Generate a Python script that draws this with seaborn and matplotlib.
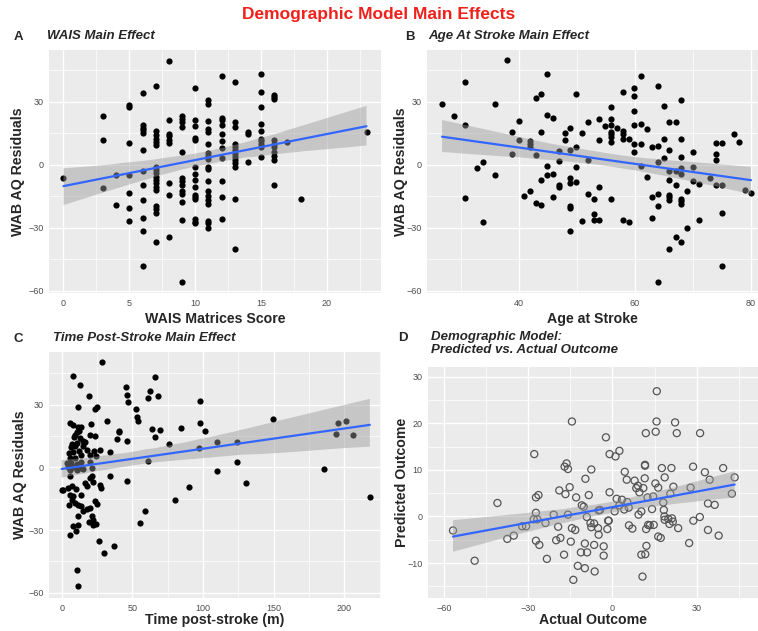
import matplotlib
matplotlib.use("Agg")
import matplotlib.pyplot as plt
import seaborn as sns
from matplotlib.collections import PolyCollection
from matplotlib.ticker import AutoMinorLocator, MultipleLocator

sns.set_theme(style="darkgrid")
plt.rcParams["font.family"] = ["Liberation Sans", "DejaVu Sans"]

# ── data ──────────────────────────────────────────────────────────────────────
wais_score = [0, 3, 3, 3, 4, 4,
              5, 5, 5, 5, 5, 5, 5,
              6, 6, 6, 6, 6, 6, 6, 6, 6, 6, 6, 6,
              7, 7, 7, 7, 7, 7, 7, 7, 7, 7, 7, 7, 7, 7, 7, 7, 7, 7,
              8, 8, 8, 8, 8, 8, 8, 8, 8,
              9, 9, 9, 9, 9, 9, 9, 9, 9, 9, 9, 9, 9,
              10, 10, 10, 10, 10, 10, 10, 10, 10, 10, 10, 10, 10, 10, 10,
              11, 11, 11, 11, 11, 11, 11, 11, 11, 11, 11, 11, 11, 11, 11, 11, 11, 11, 11,
              12, 12, 12, 12, 12, 12, 12, 12, 12, 12, 12,
              13, 13, 13, 13, 13, 13, 13, 13, 13, 13, 13, 13, 13,
              14, 14, 14,
              15, 15, 15, 15, 15, 15, 15, 15, 15, 15,
              16, 16, 16, 16, 16, 16, 16, 16, 16, 16,
              17, 18, 23]
wais_resid = [-6.3, 23.2, 11.6, -11, -4.7, -19,
              28.4, 27.3, 10.5, -4.7, -13.7, -20.4, -26.7,
              34, 18.7, 17.6, 16.3, 15.2, 7, -3.1, -9.6, -16.8, -25.3, -31.6, -48,
              37.5, 16.2, 14, 12.4, 10.8, 9.3, -1.1, -2.7, -4.2, -5.8, -7.4, -8.9, -10.5, -12,
              -19.6, -21.2, -23.1, -36.7,
              49.5, 21.4, 14.8, 13.7, 11.6, 10.5, -8.9, -14.4, -34.2,
              23.1, 21.5, 20.3, 17.9, 6, -6.4, -8, -9.6, -12.7, -13.8, -17.7, -26.5, -55.9,
              36.3, 21.2, 18.4, 12.7, 11.6, -0.9, -4.6, -7.2, -10.7, -14.3, -15.4, -16.3,
              -25.9, -27.2, -27.9,
              30.9, 28.7, 20.6, 16.8, 15.5, 9.7, 5.7, 4.2, 2.7, -0.9, -2, -8, -12.7, -15.1,
              -16.6, -18.5, -26.8, -27.9, -30.1,
              42.1, 22.1, 21.2, 18.7, 14.4, 11.1, 8, 3, -7.7, -15.4, -25.9,
              39.1, 20.3, 17.7, 10, 8.5, 6.9, 5.3, 3.8, 2.2, 0.6, -1.3, -16.3, -40.2,
              15.5, 14.6, 1.3,
              43, 34.4, 27.6, 19.3, 15.9, 12.4, 11.3, 10, 8.5, 3.8,
              33, 32.2, 31.2, 11.8, 10, 8.5, 6.1, 4.2, 2.2, -9.7,
              11, -16.5, 15.4]

stroke_age = [26.8, 28.9, 30.8, 30.8, 30.8, 32.8, 33.9, 33.9, 35.9, 35.9,
              37.9, 38.9, 38.9, 40, 40, 40.9, 41.9, 41.9, 41.9, 41.9,
              42.9, 42.9, 42.9, 43.9, 43.9, 43.9, 43.9, 44.9, 44.9, 44.9,
              44.9, 45.9, 45.9, 45.9, 46.9, 46.9, 46.9, 46.9, 47.9, 47.9,
              48.9, 48.9, 48.9, 48.9, 48.9, 48.9, 48.9, 49.9, 49.9, 49.9,
              49.9, 50.9, 50.9, 51.9, 51.9, 51.9, 52.9, 52.9, 52.9, 53.9,
              53.9, 53.9, 53.9, 54.9, 55.9, 55.9, 55.9, 55.9, 55.9, 55.9,
              55.9, 55.9, 57, 58, 58, 58, 58, 58, 59, 59,
              59.9, 59.9, 59.9, 59.9, 59.9, 59.9, 61, 61, 61, 61,
              62, 62, 62.9, 62.9, 62.9, 63.9, 63.9, 63.9, 63.9, 63.9,
              63.9, 65, 65, 65, 65.9, 65.9, 65.9, 65.9, 65.9, 65.9,
              65.9, 65.9, 67, 67, 67, 67, 68, 68, 68, 68,
              68, 68, 68, 68, 68, 69, 69, 70, 70, 70,
              71, 71, 73, 74, 74, 74, 74, 75, 75, 75,
              75, 77, 78, 79, 80]
age_resid = [28.6, 22.9, 39.1, 18.7, -15.9, -1.7, 1.1, -27.3, 28.7, -4.9,
             49.6, 15.5, 5.3, 20.7, 11.6, -14.9, -12.4, 11.1, 9.9, 8.6,
             31.6, 4.6, -18.4, 33.8, 15.5, -7.2, -19, 43, 23.4, -0.8,
             -4.9, 22.1, -4.4, -15.5, 6.3, 1.9, -9.6, -10.8, 15.1, 11.8,
             17.6, 7.2, -6.4, -8.9, -19.8, -20.6, -31.6, 33.6, 8.3, -1.3,
             -8.2, 15.2, -26.8, 20.4, 2.4, -14, -16.3, -23.4, -26.1, 21.5,
             11.6, -10.8, -26.4, 18.4, 27.3, 21.5, 18.7, 15.5, 14.4, 13.3,
             10.8, -16.5, 17.4, 34.4, 16, 14.8, 12.4, -26.5, 12.4, -27.3,
             36.4, 32.8, 25.3, 18.7, 9.6, 6.1, 19.3, 9.7, -0.5, 42.2,
             17.1, -6.1, 8.3, -15.5, -25.3, 37.5, 9, 1.4, -14, -19.8,
             -55.9, 27.8, 12.1, 3.3, 20.3, 6.9, -2.8, -7.2, -14.6, -15.5,
             -16.6, -40.2, 20.3, -2.8, -9.6, -34.4, 30.9, 12.1, 3.8, -1.7,
             -4.6, -16.2, -17.4, -18.5, -36.6, -12.7, -30, 5.8, -1.3, -7.7,
             -9.1, -26.1, -6.4, 10.5, 4.9, 2.2, -9.6, 10.4, -9.6, -22.9,
             -48.2, 14.4, 10.8, -11.9, -13.5]

months_post = [28.2, 7.7, 12.9, 19.5, 11.5, 23.5, 25.1, 32.2, 5.9, 7.7,
               20.4, 11.3, 13.6, 12.4, 10.6, 9.6, 20, 23.7, 40.7, 40.2,
               8.7, 12.9, 14.8, 38.8, 45.9, 7.3, 10.6, 16.2, 6.3, 9.2,
               14.8, 17.6, 11.9, 5.4, 8.2, 22.8, 27, 13.4, 20, 34.1,
               5.9, 9.6, 24.2, 4, 6.8, 11, 13.4, 20, 4.5, 8.2,
               12, 15.3, 21.4, 5.9, 10.6, 5.9, 21.2, 20, 34.1, 45.9,
               1.2, 4.7, 7.1, 10.1, 16.4, 18.1, 21.9, 27, 27.5, 13.4,
               5.9, 8.2, 7.1, 5.4, 9.4, 11.7, 13.4, 17.6, 20, 23.5,
               24.7, 15.3, 11.7, 21.2, 22.4, 19.5, 22.4, 24.2, 8.2, 11.7,
               5.9, 10.1, 26.6, 36.9, 29.9, 10.6, 11.7, 0,
               45.6, 45.9, 46.6, 52.5, 53.6, 54.1, 55.3, 59.3, 61.4, 62.4,
               61.4, 64.2, 66.1, 66.1, 68, 69.4, 76.2, 80, 84.7, 89.9,
               97.6, 97.2, 98.1, 101.2, 109.9, 109.9, 123.8, 123.8, 130.1, 149.9,
               185.9, 194.1, 195.3, 201.2, 206.1, 218.1]
months_resid = [50.4, 43.9, 39.6, 34.1, 29.1, 27.9, 29.1, 22.1, 21.4, 20.4,
                20.7, 19.1, 19.4, 17.5, 16.9, 15.6, 15.6, 15, 16.9, 17.5,
                14.3, 14, 12.7, 13.5, 12.4, 11.2, 11.5, 12.3, 9.6, 10.1,
                10.1, 8.5, 7.7, 7, 7.4, 8, 8.5, 6.1, 6.1, 7.3,
                4.5, 4.5, 5.4, 2.1, 1.9, 1.6, 2.8, 2.5, 0.4, 0.1,
                -0.2, -1, -0.5, -1.1, -1.4, -4.3, -4, -5.1, -4.3, -6.4,
                -10.7, -9.9, -9.1, -10.4, -7.5, -9.1, -7.2, -8.3, -9.9, -13.1,
                -13.1, -13.9, -15.5, -17.8, -17, -17.8, -18.3, -19.9, -19.4, -16.3,
                -17.4, -21, -23.4, -23.4, -25, -26.3, -27.4, -26.9, -27.9, -27.4,
                -32.2, -30.6, -35.1, -37.5, -41, -49, -56.9, -10.7,
                38.3, 34.8, 31.4, 28.1, 23.9, 22.3, -26.6, -20.7, 33.2, 36.7,
                3.2, 18.5, 43.1, 14.7, 34.3, 17.9, 11.3, -15.6, 19, -9.4,
                31.6, 9.3, 21.2, 17.2, 12.1, -1.6, 12.1, 2.6, -7.5, 23.1,
                -0.8, 16.1, 21.1, 22.3, 15.6, -14]

actual = [-56.7, -49, -40.9, -37.4, -35.1, -32.1, -30.7, -27.8, -28, -27.2,
          -27.2, -26.3, -27.2, -26, -26.7, -23.8, -23.3, -20.9, -20, -19.3,
          -18.9, -18.5, -17, -16.7, -17.2, -16.3, -15.8, -15.8, -15.2, -14.8,
          -14.4, -14.4, -13.9, -13.2, -12.9, -12.3, -10.9, -10.2, -9.8, -9.6,
          -9.8, -9.1, -9, -11.2, -8.4, -7.8, -7.5, -7.5, -6.5, -6.5,
          -6.3, -5.1, -4.9, -4.9, -4.4, -3.1, -3.1, -2.3, -1.8, -1.5,
          -1.3, -1, -1, 1.1, 0.8, 2.5, 1.5, 2.5, 3.4, 4.2,
          4.4, 5.1, 5.3, 5.8, 5.9, 7.1, 7.9, 8.5, 9.1, 9.6,
          9.3, 10.3, 11, 10.3, 10.7, 11.5, 11.6, 11.6, 11.7, 11.9,
          12, 12.1, 12.5, 12.7, 13.3, 14.1, 14.5, 14.7, 15.3, 15.4,
          15.7, 15.8, 16.3, 16.3, 17.2, 17.6, 18.1, 18.6, 18.3, 18.5,
          18.6, 19.9, 20.3, 20.6, 21, 21.2, 21.5, 21.7, 22.3, 22.9,
          23.4, 27.3, 27.8, 28.7, 28.8, 31.2, 31.1, 32.9, 34, 34,
          34.6, 36.4, 37.8, 39.4, 42.5, 43.5]
predicted = [-3, -9.5, 2.9, -4.8, -4.1, -2.1, -2.1, 13.4, -0.6, 0.8,
             4.1, 4.6, -5.2, -6.1, -0.6, -1.4, -9.1, 0.4, -5.1, -2.2,
             5.6, -4.6, 10.7, 4.8, -8.2, 11.4, 10.2, 0.4, 6.3, -5.4,
             20.4, -2.5, -13.6, -2.9, 4.1, -10.6, 2.4, 2.1, -11.1, 8.1,
             -5.8, -0.1, -7.7, -7.7, 4.6, -1.4, 10.1, -2.3, -1.5, -6.1,
             -11.8, -2.5, 1.3, -3.9, 1.4, -6.4, -8.4, 17, -2.7, -0.9,
             -0.9, 13.4, 5.2, 12.9, 1.1, 14.1, 3.8, 2.4, 3.6, 1.5,
             9.6, 7.9, 3.1, 1.9, -1.9, -2.6, 7.7, 6.1, 6.6, 5.2,
             0.4, 1.1, 6.1, -8.2, -12.9, 8.2, 10.9, 11.1, -8.1, 17.9,
             -2.7, -6.3, 4.1, -1.8, -1.9, 1.6, 4.3, -1.8, 7.1, 18.2,
             20.4, 26.9, 6.2, -4.3, -4.6, 10.4, 3, 8.4, 1.4, 0,
             -0.7, -0.5, -1.6, 4.9, 10.4, -0.4, -1.1, 6.4, 20.2, 17.9,
             -2.5, -5.7, 6.2, 10.7, -0.9, 17.9, -0.1, 9.5, -2.9, 2.8,
             7.9, 2.5, -4.1, 10.4, 4.9, 8.4]

W, H = 758, 631


def box(left, top, right, bottom):
    return [left / W, 1 - bottom / H, (right - left) / W, (bottom - top) / H]


def panel(ax, x, y, hollow=False):
    if hollow:
        pts = dict(s=26, color="none", edgecolors="#555555", linewidths=0.9, alpha=1)
    else:
        pts = dict(s=20, color="black", linewidths=0, alpha=1)
    sns.regplot(x=x, y=y, ax=ax, ci=95, seed=1, scatter_kws=pts,
                line_kws=dict(color="#3366FF", lw=1.6))
    # ggplot-style grey confidence band
    for c in ax.collections:
        if isinstance(c, PolyCollection):
            c.set_facecolor("#999999")
            c.set_alpha(0.45)
            c.set_edgecolor("none")
    ax.set_facecolor("#EBEBEB")
    ax.xaxis.set_minor_locator(AutoMinorLocator(2))
    ax.yaxis.set_minor_locator(AutoMinorLocator(2))
    ax.grid(which="major", color="white", lw=1.0)
    ax.grid(which="minor", color="white", lw=0.5)
    ax.tick_params(which="major", length=2.5, width=0.6, color="#333333",
                   labelsize=6.5, labelcolor="#4D4D4D", pad=1.5)
    ax.tick_params(which="minor", length=0)
    for s in ax.spines.values():
        s.set_visible(False)


def labels(ax, xl, yl, xpos, ypos):
    ax.set_xlabel(xl, fontsize=10.2, fontweight="bold")
    ax.set_ylabel(yl, fontsize=10.2, fontweight="bold")
    ax.xaxis.set_label_coords(0.5, xpos)
    ax.yaxis.set_label_coords(ypos, 0.5)
    ax.xaxis.label.set_verticalalignment("center")
    ax.yaxis.label.set_verticalalignment("center")


fig = plt.figure(figsize=(W / 100, H / 100), dpi=100)
fig.patch.set_facecolor("white")

axA = fig.add_axes(box(49, 50, 381, 293))
panel(axA, wais_score, wais_resid)
axA.set_xlim(-1.1, 24.1)
axA.set_ylim(-61, 54.5)
axA.xaxis.set_major_locator(MultipleLocator(5))
axA.yaxis.set_major_locator(MultipleLocator(30))
labels(axA, "WAIS Matrices Score", "WAB AQ Residuals", -0.107, -0.093)

axB = fig.add_axes(box(427, 50, 758, 293))
panel(axB, stroke_age, age_resid)
axB.set_xlim(24.2, 81.2)
axB.set_ylim(-61, 54.5)
axB.xaxis.set_major_locator(MultipleLocator(20))
axB.yaxis.set_major_locator(MultipleLocator(30))
labels(axB, "Age at Stroke", "WAB AQ Residuals", -0.107, -0.08)

axC = fig.add_axes(box(49, 352, 381, 598))
panel(axC, months_post, months_resid)
axC.set_xlim(-9, 226)
axC.set_ylim(-62.5, 55.2)
axC.xaxis.set_major_locator(MultipleLocator(50))
axC.yaxis.set_major_locator(MultipleLocator(30))
labels(axC, "Time post-stroke (m)", "WAB AQ Residuals", -0.091, -0.088)

axD = fig.add_axes(box(428, 367, 758, 598))
panel(axD, actual, predicted, hollow=True)
axD.set_xlim(-65.6, 51.8)
axD.set_ylim(-17.5, 32.1)
axD.xaxis.set_major_locator(MultipleLocator(30))
axD.yaxis.set_major_locator(MultipleLocator(10))
labels(axD, "Actual Outcome", "Predicted Outcome", -0.097, -0.08)

fig.text(0.5, 1 - 15 / H, "Demographic Model Main Effects", color="#F0201A",
         fontsize=12.5, fontweight="bold", ha="center", va="center")

tags = [("A", 18, 37, "WAIS Main Effect", 47),
        ("B", 410, 37, "Age At Stroke Main Effect", 428),
        ("C", 18, 339, "Time Post-Stroke Main Effect", 53),
        ("D", 403, 338, "Demographic Model:\nPredicted vs. Actual Outcome", 431)]
for tag, tx, ty, sub, sx in tags:
    fig.text(tx / W, 1 - ty / H, tag, fontsize=9.5, fontweight="bold",
             ha="center", va="center")
    fig.text(sx / W, 1 - (ty - 7) / H, sub, fontsize=9.5, fontweight="bold",
             fontstyle="italic", ha="left", va="top", linespacing=1.15)

fig.savefig("out.png", dpi=100)
